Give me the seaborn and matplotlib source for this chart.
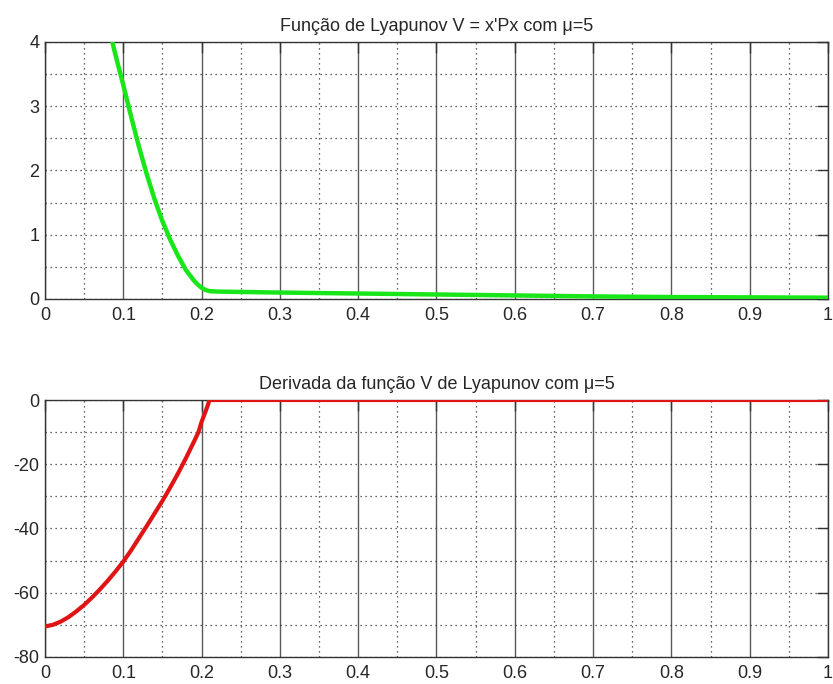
import numpy as np
import pandas as pd
import matplotlib
matplotlib.use("Agg")
import matplotlib.pyplot as plt
import seaborn as sns
from matplotlib.ticker import MultipleLocator

# Lyapunov function V = x'Px along the trajectory
t_v = [0.086, 0.09, 0.10, 0.11, 0.12, 0.13, 0.14, 0.15, 0.16, 0.17, 0.18,
       0.19, 0.195, 0.20, 0.205, 0.21, 0.22, 0.30, 0.40, 0.50, 0.60, 0.70,
       0.80, 0.90, 1.00]
v_vals = [4.0, 3.80, 3.33, 2.84, 2.37, 1.94, 1.55, 1.21, 0.92, 0.67, 0.45,
          0.29, 0.225, 0.175, 0.14, 0.122, 0.115, 0.10, 0.085, 0.07, 0.055, 0.04,
          0.03, 0.025, 0.02]

# Time derivative of V
t_dv = [0.0, 0.01, 0.02, 0.03, 0.04, 0.05, 0.06, 0.07, 0.08, 0.09, 0.10,
        0.11, 0.12, 0.13, 0.14, 0.15, 0.16, 0.17, 0.18, 0.19, 0.196, 0.20,
        0.205, 0.208, 0.21, 1.00]
dv_vals = [-70.5, -70.0, -69.0, -67.6, -65.8, -63.8, -61.5, -59.0, -56.3, -53.4,
           -50.3, -46.8, -43.0, -39.2, -35.3, -31.4, -27.2, -22.8, -18.1, -13.1,
           -10.0, -6.8, -3.6, -1.6, 0.0, 0.0]

x_ticks = [0, 0.1, 0.2, 0.3, 0.4, 0.5, 0.6, 0.7, 0.8, 0.9, 1]
x_labels = ["0", "0.1", "0.2", "0.3", "0.4", "0.5", "0.6", "0.7", "0.8", "0.9", "1"]

title_top = "Função de Lyapunov V = x'Px com μ=5"
title_bot = "Derivada da função V de Lyapunov com μ=5"

sns.set_style("white")
plt.rcParams["font.family"] = ["Liberation Sans", "DejaVu Sans"]
plt.rcParams["axes.unicode_minus"] = False

fig = plt.figure(figsize=(8.33, 6.84), dpi=100)
ax1 = fig.add_axes([0.054, 0.5629, 0.940, 0.3757])
ax2 = fig.add_axes([0.054, 0.0395, 0.940, 0.3757])

df_v = pd.DataFrame({"t": t_v, "V": v_vals})
df_dv = pd.DataFrame({"t": t_dv, "dV": dv_vals})

sns.lineplot(data=df_v, x="t", y="V", ax=ax1, color="#19e619", lw=3.2, zorder=5)
sns.lineplot(data=df_dv, x="t", y="dV", ax=ax2, color="#e01414", lw=3.0, zorder=5)


def style(ax, ylim, ymajor, yminor, title):
    ax.set_xlim(0, 1)
    ax.set_ylim(*ylim)
    ax.set_xlabel("")
    ax.set_ylabel("")
    ax.set_xticks(x_ticks)
    ax.set_xticklabels(x_labels)
    ax.xaxis.set_minor_locator(MultipleLocator(0.05))
    ax.yaxis.set_major_locator(MultipleLocator(ymajor))
    ax.yaxis.set_minor_locator(MultipleLocator(yminor))
    # vertical grid: solid at major, dotted at minor
    ax.grid(True, which="major", axis="x", color="#5a5a5a", lw=1.0, ls="-")
    ax.grid(True, which="minor", axis="x", color="#333333", lw=0.9, ls=(0, (1, 3)))
    # horizontal grid: dotted at every step
    ax.grid(True, which="both", axis="y", color="#333333", lw=0.9, ls=(0, (1, 3)))
    ax.tick_params(which="major", direction="in", length=8, width=1,
                   top=True, right=True, labelsize=13, color="#333333")
    ax.tick_params(axis="x", which="major", pad=6)
    ax.tick_params(axis="y", which="major", pad=4)
    ax.tick_params(which="minor", length=0)
    for s in ax.spines.values():
        s.set_color("#333333")
        s.set_linewidth(1.0)
    ax.set_title(title, fontsize=13, pad=8)


style(ax1, (0, 4), 1, 0.5, title_top)
style(ax2, (-80, 0), 20, 10, title_bot)

fig.savefig("out.png", dpi=100)
